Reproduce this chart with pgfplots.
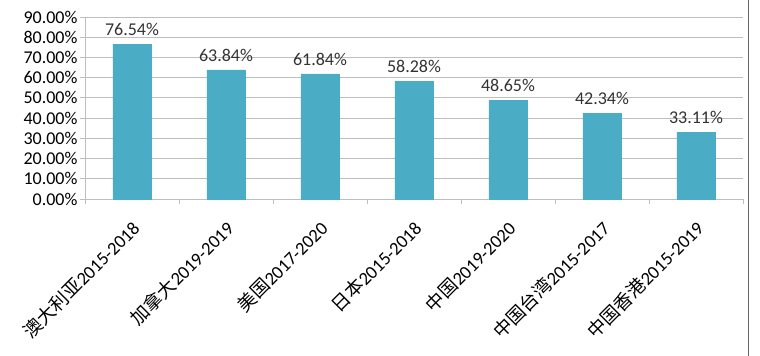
\documentclass[border=0pt]{standalone}
\usepackage{fontspec}
\setmainfont{Carlito}
\newfontfamily\cjk{Noto Sans CJK SC}
\usepackage{pgfplots}
\pgfplotsset{compat=1.18}
\definecolor{barc}{RGB}{75,172,198}
\definecolor{gridc}{RGB}{190,190,190}
\begin{document}
\begin{tikzpicture}
\path[use as bounding box] (-85bp,-157bp) rectangle (675bp,199bp);
\begin{axis}[
  scale only axis,
  width=658bp, height=182bp,
  xmin=-0.5, xmax=6.5,
  ymin=0, ymax=90,
  ytick={0,10,...,90},
  /pgf/number format/assume math mode=true,
  yticklabel={\pgfmathprintnumber[fixed,fixed zerofill,precision=2]{\tick}\%},
  yticklabel style={font=\fontsize{18bp}{20bp}\selectfont, xshift=1bp},
  ymajorgrids,
  grid style={gridc, line width=0.8pt},
  axis line style={gridc, line width=0.8pt},
  axis x line*=bottom,
  axis y line*=left,
  tick style={gridc, line width=0.8pt},
  tick align=outside,
  major tick length=5bp,
  xtick={-0.5,0.5,...,6.5},
  xticklabels={},
  extra x ticks={0,1,2,3,4,5,6},
  extra x tick labels={{\cjk 澳大利亚}2015-2018,{\cjk 加拿大}2019-2019,{\cjk 美国}2017-2020,{\cjk 日本}2015-2018,{\cjk 中国}2019-2020,{\cjk 中国台湾}2015-2017,{\cjk 中国香港}2015-2019},
  extra x tick style={grid=none, major tick length=0pt,
    tick label style={rotate=45, anchor=east, font=\fontsize{18.5bp}{20bp}\selectfont, xshift=-12bp, yshift=-21bp}},
  ybar, bar width=38bp,
  nodes near coords={\pgfmathprintnumber[fixed,fixed zerofill,precision=2]{\pgfplotspointmeta}\%},
  every node near coord/.append style={font=\fontsize{18bp}{20bp}\selectfont, color=black!80, yshift=5bp},
  clip=false,
]
\addplot[fill=barc, draw=barc] coordinates {(0,76.54) (1,63.84) (2,61.84) (3,58.28) (4,48.65) (5,42.34) (6,33.11)};
\end{axis}
\draw[black!60, line width=0.8pt] (663bp,-157bp) -- (663bp,199bp);
\end{tikzpicture}
\end{document}
